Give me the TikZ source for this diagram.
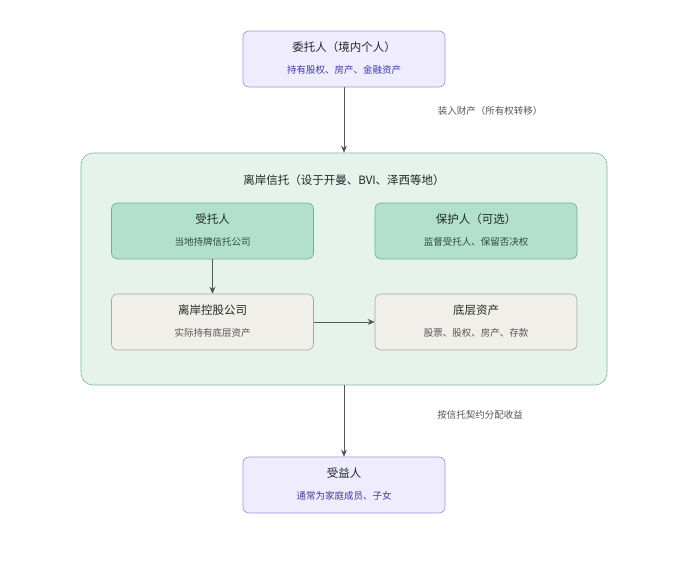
\documentclass[tikz,border=0pt]{standalone}
\usepackage{fontspec}
\setmainfont{Noto Sans CJK SC}
\usetikzlibrary{arrows.meta}
\definecolor{pfill}{HTML}{EEECFD}\definecolor{pdraw}{HTML}{9D92DB}\definecolor{ptext}{HTML}{3F3A9E}
\definecolor{gfill}{HTML}{E5F3EC}\definecolor{gdraw}{HTML}{7DB898}
\definecolor{tfill}{HTML}{B3E0CC}\definecolor{tdraw}{HTML}{6FAF90}
\definecolor{nfill}{HTML}{F1EFE9}\definecolor{ndraw}{HTML}{A9A79F}
\definecolor{ttl}{HTML}{1F2A26}\definecolor{sub}{HTML}{2E4A3D}\definecolor{arr}{HTML}{555555}
\begin{document}
\begin{tikzpicture}[x=1pt,y=-1pt,
 box/.style={rounded corners=6pt,minimum width=202pt,minimum height=56pt,line width=0.6pt},
 pbox/.style={box,fill=pfill,draw=pdraw},
 tbox/.style={box,fill=tfill,draw=tdraw},
 nbox/.style={box,fill=nfill,draw=ndraw},
 arrow/.style={draw=arr,line width=0.8pt,-{Stealth[length=7pt,width=6pt]}},
 lbl/.style={font=\fontsize{9.5}{11}\selectfont,text=arr}]
\useasboundingbox (0,0) rectangle (689,568);
\node[rounded corners=12pt,fill=gfill,draw=gdraw,line width=0.6pt,minimum width=526pt,minimum height=232pt] (cont) at (344,269) {};
\node[font=\fontsize{11.5}{13}\selectfont,text=ttl] (ct) at (344,180) {离岸信托（设于开曼、BVI、泽西等地）};
\node[pbox] (a) at (344,59) {};
\node[font=\fontsize{11.5}{13}\selectfont,text=ttl] at (344,47) {委托人（境内个人）};
\node[font=\fontsize{9.5}{11}\selectfont,text=ptext] at (344,70) {持有股权、房产、金融资产};
\node[tbox] (t) at (212.5,231) {};
\node[font=\fontsize{11.5}{13}\selectfont,text=ttl] at (212.5,219) {受托人};
\node[font=\fontsize{9.5}{11}\selectfont,text=sub] at (212.5,242) {当地持牌信托公司};
\node[tbox] (p) at (476,231) {};
\node[font=\fontsize{11.5}{13}\selectfont,text=ttl] at (476,219) {保护人（可选）};
\node[font=\fontsize{9.5}{11}\selectfont,text=sub] at (476,242) {监督受托人、保留否决权};
\node[nbox] (h) at (212.5,322) {};
\node[font=\fontsize{11.5}{13}\selectfont,text=ttl] at (212.5,310) {离岸控股公司};
\node[font=\fontsize{9.5}{11}\selectfont,text=arr] at (212.5,333) {实际持有底层资产};
\node[nbox] (u) at (476,322) {};
\node[font=\fontsize{11.5}{13}\selectfont,text=ttl] at (476,310) {底层资产};
\node[font=\fontsize{9.5}{11}\selectfont,text=arr] at (476,333) {股票、股权、房产、存款};
\node[pbox] (b) at (344,485) {};
\node[font=\fontsize{11.5}{13}\selectfont,text=ttl] at (344,473) {受益人};
\node[font=\fontsize{9.5}{11}\selectfont,text=ptext] at (344,496) {通常为家庭成员、子女};
\draw[arrow] (a.south) -- (cont.north);
\node[lbl] (l1) at (490,111) {装入财产（所有权转移）};
\draw[arrow] (t.south) -- (h.north);
\draw[arrow] (h.east) -- (u.west);
\draw[arrow] (cont.south) -- (b.north);
\node[lbl] (l2) at (480,415) {按信托契约分配收益};
\end{tikzpicture}
\end{document}
